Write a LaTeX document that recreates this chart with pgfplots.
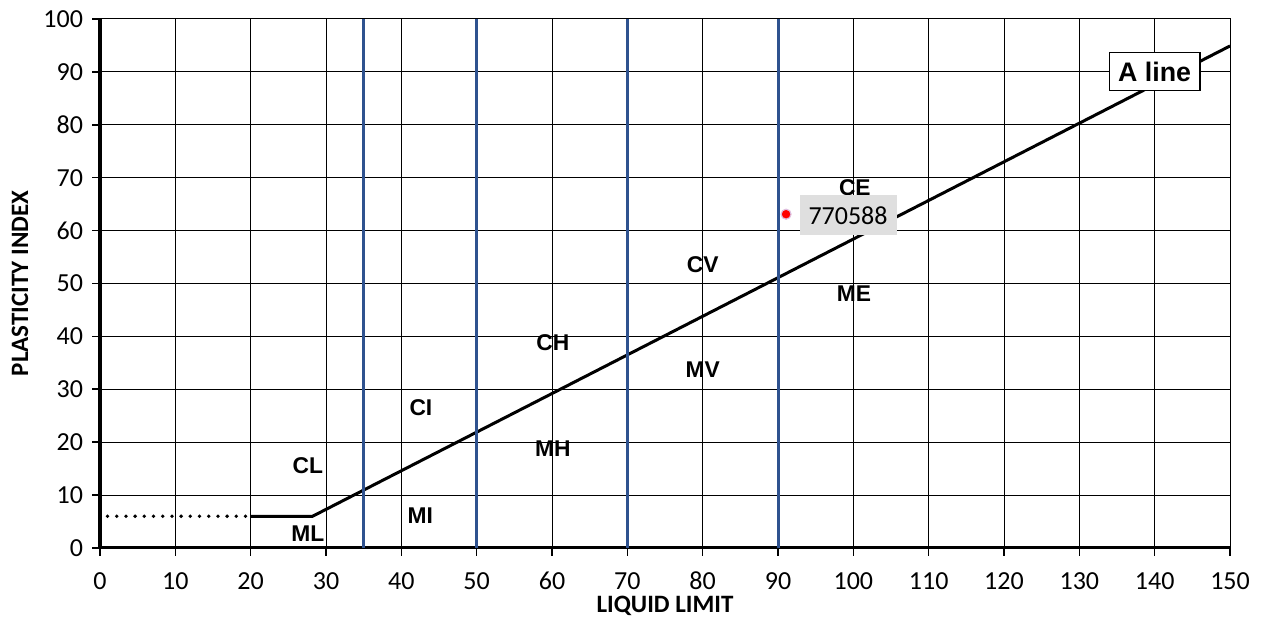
\documentclass[border=0pt]{standalone}
\usepackage{pgfplots}
\pgfplotsset{compat=1.18}
\usepackage{fontspec}
\setmainfont{Carlito}
\newfontfamily\arialf{Liberation Sans}
\definecolor{vblue}{RGB}{47,82,143}
\begin{document}
\begin{tikzpicture}
\useasboundingbox (-50pt,-35.5pt) rectangle (581pt,274pt);
\begin{axis}[
  scale only axis, width=565pt, height=264.5pt,
  xmin=0, xmax=150, ymin=0, ymax=100,
  xtick={0,10,...,150}, ytick={0,10,...,100},
  grid=major, major grid style={black, line width=0.5pt},
  axis line style={line width=0.5pt},
  tick align=outside, major tick length=4pt,
  tick style={black, line width=0.8pt},
  xtick pos=bottom, ytick pos=left,
  /pgf/number format/assume math mode=true,
  tick label style={font=\fontsize{13}{14}\selectfont},
  xticklabel style={text height=8.5pt, text depth=0pt, yshift=-4.5pt},
  yticklabel style={xshift=-1pt},
  clip=false,
]
% thick left and bottom axis lines
\draw[line width=1.5pt] (rel axis cs:0,1) -- (rel axis cs:0,0) -- (rel axis cs:1,0);
% dotted part
\addplot[black, line width=1.9pt, line cap=round, dash pattern=on 0pt off 4.6pt] coordinates {(1,6) (20,6)};
% A line
\addplot[black, line width=1.5pt] coordinates {(20,6) (28.22,6) (150,94.9)};
% vertical boundaries
\addplot[vblue, line width=1.5pt] coordinates {(35,0) (35,100)};
\addplot[vblue, line width=1.5pt] coordinates {(50,0) (50,100)};
\addplot[vblue, line width=1.5pt] coordinates {(70,0) (70,100)};
\addplot[vblue, line width=1.5pt] coordinates {(90,0) (90,100)};
% region labels
\begin{scope}[every node/.style={font=\arialf\bfseries\fontsize{11.4}{13}\selectfont}]
\node at (axis cs:27.6,15.5) {CL};
\node at (axis cs:27.6,2.8) {ML};
\node at (axis cs:42.6,26.5) {CI};
\node at (axis cs:42.5,6.2) {MI};
\node at (axis cs:60.1,38.8) {CH};
\node at (axis cs:60.1,18.7) {MH};
\node at (axis cs:80,53.5) {CV};
\node at (axis cs:80,33.8) {MV};
\node at (axis cs:100.2,68.2) {CE};
\node at (axis cs:100.1,48.1) {ME};
\end{scope}
\node[draw=black, fill=white, line width=0.6pt, inner xsep=4.4pt, minimum height=19pt, font=\arialf\bfseries\fontsize{13.4}{15}\selectfont] at (axis cs:140,90) {A line};
% sample point
\addplot[only marks, mark=*, mark size=2.5pt, mark options={fill=red, draw=violet!25, line width=0.6pt}] coordinates {(91.07,63.1)};
\node[fill=gray!25, anchor=west, inner xsep=4.5pt, minimum height=20pt, font=\fontsize{13}{14}\selectfont] at (axis cs:92.8,62.9) {770588};
% axis labels
\node[font=\bfseries\fontsize{12.5}{14}\selectfont] at ([yshift=-29pt]rel axis cs:0.5,0) {LIQUID LIMIT};
\node[rotate=90, font=\bfseries\fontsize{12.5}{14}\selectfont] at ([xshift=-40pt]rel axis cs:0,0.5) {PLASTICITY INDEX};
\end{axis}
\end{tikzpicture}
\end{document}
